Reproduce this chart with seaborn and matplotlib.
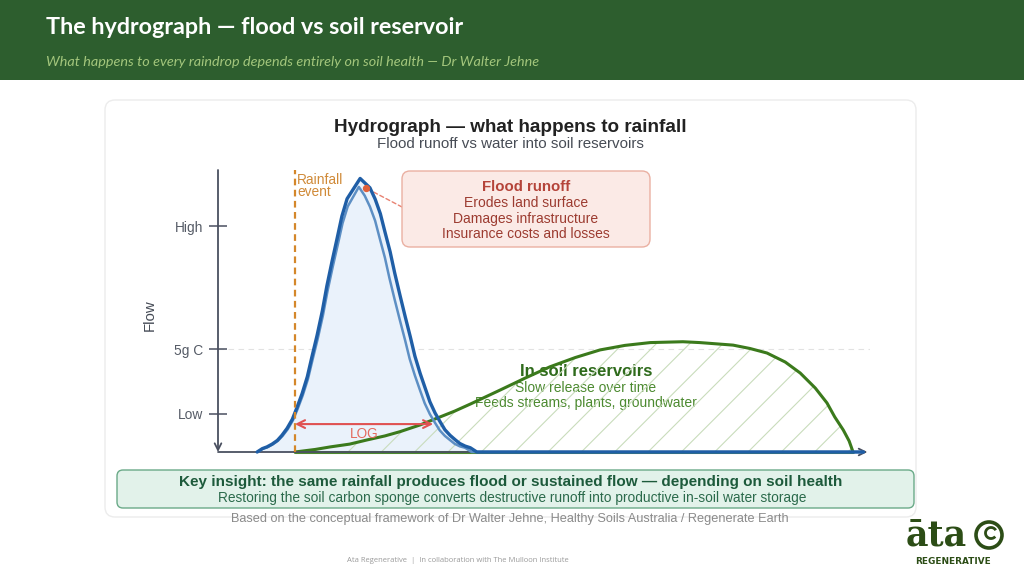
import matplotlib.pyplot as plt
import matplotlib.patches as mpatches
import matplotlib.transforms as mtransforms
import seaborn as sns

# values (time and flow as % of the axis span)
flood_time = [6.0, 6.8, 7.5, 8.3, 9.1, 9.8, 10.6, 11.4, 12.1, 12.9,
              13.7, 14.4, 15.2, 16.0, 16.7, 17.5, 18.3, 19.0, 19.8, 21.8,
              23.3, 24.1, 24.9, 25.6, 26.4, 27.1, 27.9, 28.7, 29.5, 30.2,
              31.0, 31.8, 32.5, 33.3, 34.1, 34.8, 35.6, 36.4, 37.1, 37.9,
              38.7, 39.7, 99.0]
flood_flow = [0, 1.2, 1.8, 2.8, 4.1, 5.9, 8.4, 11.6, 15.7, 20.7,
              26.7, 33.7, 41.4, 50.0, 58.9, 67.7, 76.1, 83.6, 89.8, 97.0,
              93.7, 89.7, 84.5, 78.1, 71.0, 63.5, 55.7, 48.1, 40.8, 34.0,
              27.9, 22.5, 17.8, 13.8, 10.6, 7.9, 5.9, 4.3, 3.0, 2.1,
              1.5, 0, 0]

# second, lighter runoff trace just inside the first
runoff_time = [6.1, 6.9, 7.6, 8.4, 9.2, 9.9, 10.7, 11.5, 12.2, 13.0,
               13.8, 14.5, 15.3, 16.1, 16.8, 17.6, 18.4, 19.1, 19.9, 21.6,
               22.5, 23.3, 24.1, 24.8, 25.6, 26.3, 27.1, 27.9, 28.7, 29.4,
               30.2, 31.0, 31.7, 32.5, 33.3, 34.0, 34.8, 35.6, 36.3, 37.1,
               37.9, 38.9, 99.0]
runoff_flow = [0, 1.2, 1.7, 2.7, 4.0, 5.7, 8.1, 11.3, 15.2, 20.1,
               25.9, 32.7, 40.2, 48.5, 57.1, 65.7, 73.8, 81.1, 87.1, 94.0,
               90.9, 87.0, 82.0, 75.8, 68.9, 61.6, 54.0, 46.7, 39.6, 33.0,
               27.1, 21.8, 17.3, 13.4, 10.3, 7.7, 5.7, 4.2, 2.9, 2.0,
               1.5, 0, 0]

soil_time = [11.8, 14.9, 17.2, 20.2, 22.9, 25.6, 27.9, 31.0, 33.7, 36.3,
             38.7, 41.0, 43.3, 47.1, 50.9, 54.8, 58.6, 62.4, 66.3, 71.3,
             73.9, 79.0, 81.6, 84.2, 87.0, 89.3, 91.6, 93.4, 94.6, 95.9,
             96.8, 97.4]
soil_flow = [0, 0.9, 1.8, 2.8, 4.3, 5.7, 7.2, 9.6, 12.1, 14.5,
             17.0, 19.5, 22.0, 26.2, 30.2, 33.5, 36.2, 37.8, 38.8, 39.1,
             38.8, 37.9, 36.7, 35.1, 31.9, 28.0, 22.7, 17.4, 12.4, 7.8,
             3.9, 0]

rain_time = 11.8
log_end = 33.0
log_level = 9.9
peak_marker = (22.7, 93.6)
tick_levels = [13.5, 36.5, 80]
tick_labels = ['Low', '5g C', 'High']

flood_notes = ['Erodes land surface', 'Damages infrastructure', 'Insurance costs and losses']
soil_notes = ['Slow release over time', 'Feeds streams, plants, groundwater']

sns.set_theme(style='white')
plt.rcParams['font.family'] = ['Liberation Sans', 'DejaVu Sans']
plt.rcParams['hatch.linewidth'] = 0.8

fig = plt.figure(figsize=(10.24, 5.76), dpi=100)
fig.patch.set_facecolor('white')
# pixel coordinates, origin top-left
px = mtransforms.Affine2D().scale(1 / 1024, -1 / 576).translate(0, 1) + fig.transFigure


def box(x0, y0, x1, y1, face, edge, r=8, lw=1.0, z=1):
    p = mpatches.FancyBboxPatch((x0, y0), x1 - x0, y1 - y0,
                                boxstyle=f'round,pad=0,rounding_size={r}',
                                transform=px, facecolor=face, edgecolor=edge,
                                linewidth=lw, zorder=z)
    fig.add_artist(p)


def label(x, y, s, **kw):
    kw.setdefault('ha', 'center')
    kw.setdefault('va', 'center')
    fig.text(x, y, s, transform=px, **kw)


# header band
fig.add_artist(mpatches.Rectangle((0, 0), 1024, 80, transform=px,
                                  facecolor='#2d5e2e', edgecolor='none', zorder=-10))
label(46, 28, 'The hydrograph — flood vs soil reservoir', ha='left', color='white',
      fontsize=16.8, fontweight='bold', family=['Lato', 'DejaVu Sans'])
label(46, 62, 'What happens to every raindrop depends entirely on soil health — Dr Walter Jehne',
      ha='left', color='#a3c67c', fontsize=10.4, style='italic', family=['Lato', 'DejaVu Sans'])

# card
box(105, 100, 916, 517, 'white', '#ececec', r=10, z=-5)

# chart
ax = fig.add_axes([218 / 1024, 124 / 576, 652 / 1024, 282 / 576])
ax.set_facecolor('none')
ax.set_xlim(0, 100)
ax.set_ylim(0, 100)

ax.axhline(tick_levels[1], color='#e2e2e2', ls=(0, (5, 4)), lw=0.8, zorder=0.5)

ax.fill_between(flood_time, flood_flow, 0, color='#eaf2fb', lw=0, zorder=0.8)

# soil labels sit under the hatch, as in the reference
ax.text(586, 371, 'In soil reservoirs', transform=px, ha='center', va='center',
        color='#2f6b1c', fontsize=12, fontweight='bold', zorder=1)
for i, t in enumerate(soil_notes):
    ax.text(586, 388 + i * 14.5, t, transform=px, ha='center', va='center',
            color='#4c8a30', fontsize=10, zorder=1)

ax.fill_between(soil_time, soil_flow, 0, facecolor='none', edgecolor='#c9dcbc',
                hatch='/', lw=0, zorder=1.2)

sns.lineplot(x=soil_time, y=soil_flow, sort=False, estimator=None, color='#3b7a1c',
             lw=2.2, ax=ax, clip_on=False, zorder=3)
ax.plot([soil_time[0], soil_time[-1]], [0, 0], color='#4d8a2e', lw=2.2,
        clip_on=False, zorder=3)
sns.lineplot(x=runoff_time, y=runoff_flow, sort=False, estimator=None, color='#5d8fc4',
             lw=1.8, ax=ax, clip_on=False, zorder=4)
sns.lineplot(x=flood_time, y=flood_flow, sort=False, estimator=None, color='#1f5ea6',
             lw=2.4, ax=ax, clip_on=False, zorder=4.5)

ax.axvline(rain_time, color='#d4872a', ls=(0, (3, 2)), lw=1.6, zorder=5, clip_on=False)
ax.text(297, 180, 'Rainfall', transform=px, color='#d08a38', fontsize=9.9,
        va='center', ha='left')
ax.text(297, 192, 'event', transform=px, color='#d08a38', fontsize=9.9,
        va='center', ha='left')

ax.annotate('', xy=(log_end, log_level), xytext=(rain_time, log_level),
            arrowprops=dict(arrowstyle='<->', color='#e05252', lw=1.5,
                            shrinkA=0, shrinkB=0, mutation_scale=14), zorder=6)
ax.text(22.4, 6.4, 'LOG', color='#e46a5e', fontsize=9.8, ha='center', va='center')

# axes with arrows
ax.annotate('', xy=(0, 0), xytext=(0, 100),
            arrowprops=dict(arrowstyle='->', color='#4a5060', lw=1.3,
                            shrinkA=0, shrinkB=0, mutation_scale=12), annotation_clip=False)
ax.annotate('', xy=(99.6, 0), xytext=(0, 0),
            arrowprops=dict(arrowstyle='->', color='#4a5060', lw=1.3,
                            shrinkA=0, shrinkB=0, mutation_scale=12), annotation_clip=False)
for s in ax.spines.values():
    s.set_visible(False)
ax.set_xticks([])
ax.set_yticks(tick_levels, tick_labels)
ax.tick_params(axis='y', left=True, direction='inout', length=13, width=1.1,
               colors='#4a5060', labelcolor='#555b66', labelsize=9.9, pad=4)
ax.set_xlabel('')
ax.set_ylabel('Flow', fontsize=10.8, color='#444a55')
ax.yaxis.set_label_coords(-0.094, 0.486)

# flood runoff callout
ax.scatter([peak_marker[0]], [peak_marker[1]], s=18, color='#e0603a', zorder=7,
           clip_on=False)
ax.annotate('', xy=peak_marker, xycoords='data', xytext=(402, 207), textcoords=px,
            arrowprops=dict(arrowstyle='-', ls=(0, (3, 2)), color='#e88272', lw=1.0,
                            shrinkA=0, shrinkB=3))
box(402, 171, 650, 247, '#fbeae6', '#eab0a2', r=8)
label(526, 187, 'Flood runoff', color='#b5443a', fontsize=10.8, fontweight='bold', zorder=3)
for i, t in enumerate(flood_notes):
    label(526, 203 + i * 15.5, t, color='#9c3b30', fontsize=10, zorder=3)

# titles
label(510, 128, 'Hydrograph — what happens to rainfall', color='#222222',
      fontsize=13.6, fontweight='bold')
label(510, 144, 'Flood runoff vs water into soil reservoirs', color='#474c55', fontsize=10.9)

# key insight
box(117, 470, 914, 508, '#e2f2ea', '#6aaa88', r=6)
label(511, 482, 'Key insight: the same rainfall produces flood or sustained flow — depending on soil health',
      color='#1d5a3b', fontsize=11, fontweight='bold', zorder=3)
label(512, 498, 'Restoring the soil carbon sponge converts destructive runoff into productive in-soil water storage',
      color='#2b6a4b', fontsize=9.9, zorder=3)
label(510, 519, 'Based on the conceptual framework of Dr Walter Jehne, Healthy Soils Australia / Regenerate Earth',
      color='#8a8a8a', fontsize=9.2)

# footer
label(458, 560, 'Ata Regenerative  |  In collaboration with The Mulloon Institute',
      color='#9a9a9a', fontsize=5.5, family=['Open Sans', 'DejaVu Sans'])
label(936, 546, 'āta', color='#2c4d16', fontsize=25, fontweight='bold',
      va='baseline', family=['DejaVu Serif'])
fig.add_artist(mpatches.Circle((989, 535), 13, transform=px, facecolor='none',
                               edgecolor='#2c4d16', lw=2.6))
fig.add_artist(mpatches.Arc((991, 533), 11, 11, theta1=40, theta2=330, transform=px,
                            edgecolor='#2c4d16', lw=2.0))
label(953, 561, 'REGENERATIVE', color='#2c4d16', fontsize=6.4, fontweight='bold',
      family=['DejaVu Sans'])

fig.savefig('out.png', dpi=100)
